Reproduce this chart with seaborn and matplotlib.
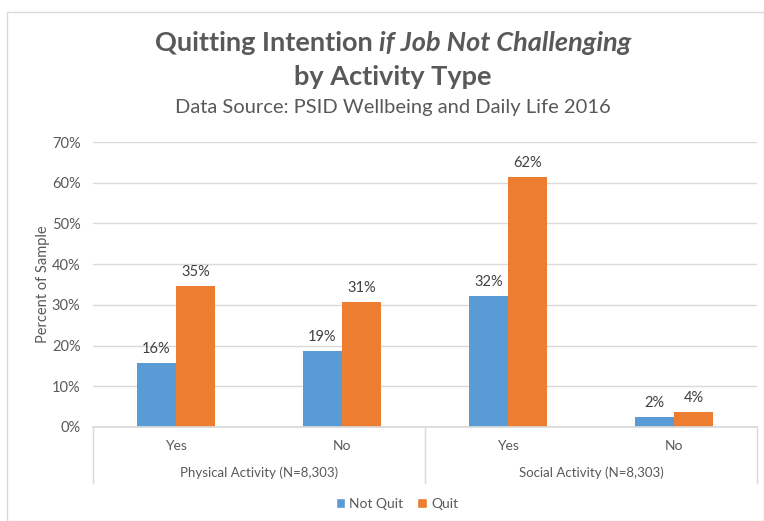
import matplotlib
matplotlib.use("Agg")
import matplotlib.pyplot as plt
import matplotlib.transforms as mtransforms
from matplotlib.patches import Rectangle, Patch
from matplotlib.ticker import FuncFormatter
import pandas as pd
import seaborn as sns

# ── Data ──────────────────────────────────────────────────────────────────────
groups = ["Physical Activity (N=8,303)", "Social Activity (N=8,303)"]
answers = ["Yes", "No"]
series = ["Not Quit", "Quit"]
not_quit = [15.7, 18.7, 32.2, 2.5]
quit = [34.6, 30.6, 61.5, 3.7]

colors = {"Not Quit": "#5B9BD5", "Quit": "#ED7D31"}
GREY = "#595959"
LINE = "#D9D9D9"

cats = [f"{g}|{a}" for g in groups for a in answers]
df = pd.DataFrame({
    "cat": cats * 2,
    "status": ["Not Quit"] * 4 + ["Quit"] * 4,
    "pct": not_quit + quit,
})

# ── Figure ────────────────────────────────────────────────────────────────────
sns.set_theme(style="white")
plt.rcParams["font.family"] = ["Lato", "DejaVu Sans"]

W, H = 764, 521
fig = plt.figure(figsize=(W / 100, H / 100), dpi=100)
ax = fig.add_axes([93 / W, 1 - 427 / H, (757 - 93) / W, (427 - 142) / H])

sns.barplot(data=df, x="cat", y="pct", hue="status", order=cats,
            hue_order=series, palette=colors, width=0.47, saturation=1,
            linewidth=0, ax=ax, legend=False)

for cont in ax.containers:
    ax.bar_label(cont, fmt="%.0f%%", padding=5, fontsize=10.5, color="#404040")

ax.set_ylim(0, 70)
ax.set_xlim(-0.5, 3.5)
ax.set_yticks(range(0, 71, 10))
ax.yaxis.set_major_formatter(FuncFormatter(lambda v, _: f"{v:.0f}%"))
ax.yaxis.grid(True, color=LINE, linewidth=1)
ax.set_axisbelow(True)
ax.tick_params(axis="y", length=0, pad=9, labelsize=10.5, labelcolor=GREY)
ax.tick_params(axis="x", length=0, pad=9, labelsize=10, labelcolor=GREY)
ax.set_xticks(range(len(cats)))
ax.set_xticklabels([c.split("|")[1] for c in cats])
ax.set_xlabel("")
ax.set_ylabel("Percent of Sample", fontsize=10.5, color=GREY, labelpad=1)
for side in ["top", "right", "left"]:
    ax.spines[side].set_visible(False)
ax.spines["bottom"].set_color(LINE)

# multi-level category axis
trans = mtransforms.blended_transform_factory(ax.transData, ax.transAxes)
for xv in [-0.5, 1.5, 3.5]:
    ax.plot([xv, xv], [0, -0.196], transform=trans, color=LINE, lw=1,
            clip_on=False)
for i, g in enumerate(groups):
    ax.text(2 * i + 0.5, -0.161, g, transform=trans, ha="center",
            va="center", fontsize=9.5, color=GREY)

# titles
renderer = fig.canvas.get_renderer()
cx, ty = 393 / W, 1 - 43 / H
TS = 19.5
t1 = fig.text(0, ty, "Quitting Intention ", fontsize=TS, fontweight="bold",
              color=GREY, va="center", ha="left")
t2 = fig.text(0, ty, "if Job Not Challenging", fontsize=TS,
              fontweight="bold", fontstyle="italic", color=GREY,
              va="center", ha="left")
w1 = t1.get_window_extent(renderer).width / W
w2 = t2.get_window_extent(renderer).width / W
t1.set_x(cx - (w1 + w2) / 2)
t2.set_x(cx - (w1 + w2) / 2 + w1)
fig.text(cx, 1 - 77 / H, "by Activity Type", fontsize=TS,
         fontweight="bold", color=GREY, ha="center", va="center")
fig.text(cx, 1 - 107 / H, "Data Source: PSID Wellbeing and Daily Life 2016",
         fontsize=14.5, color=GREY, ha="center", va="center")

# legend
handles = [Patch(facecolor=colors[s], label=s) for s in series]
fig.legend(handles=handles, loc="center", bbox_to_anchor=(397 / W, 1 - 504 / H),
           ncol=2, frameon=False, fontsize=10, handlelength=0.7,
           handleheight=0.7, handletextpad=0.3, columnspacing=1.0,
           labelcolor=GREY)

# outer chart border
fig.patches.append(Rectangle((7 / W, 0.5 / H), (W - 7.5) / W, (H - 12.5) / H,
                             transform=fig.transFigure, fill=False,
                             edgecolor=LINE, lw=1))

fig.savefig("out.png", dpi=100)
